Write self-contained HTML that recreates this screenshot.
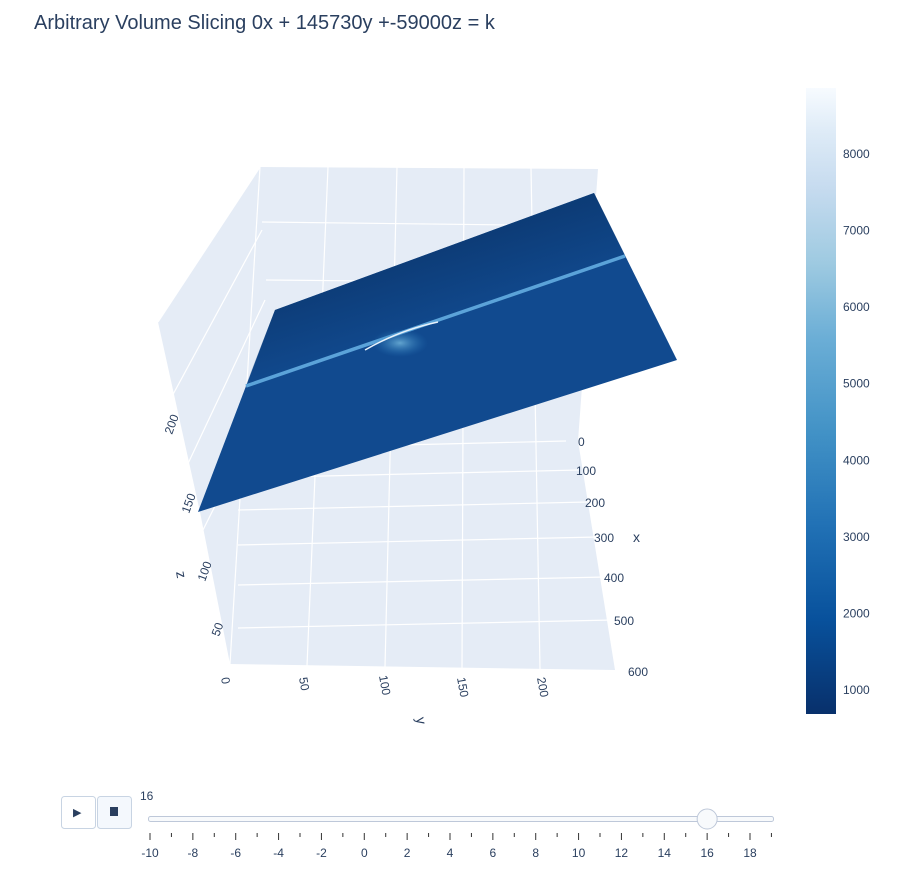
<!DOCTYPE html>
<html><head><meta charset="utf-8"><style>
body{margin:0;background:#fff;font-family:"Liberation Sans","DejaVu Sans",sans-serif;}
svg text{font-family:"Liberation Sans","DejaVu Sans",sans-serif;fill:#2a3f5f;}
</style></head><body>
<svg width="903" height="886" viewBox="0 0 903 886" xmlns="http://www.w3.org/2000/svg">
<defs>
<linearGradient id="cb" x1="0" y1="1" x2="0" y2="0">
<stop offset="0" stop-color="#08306b"/><stop offset="0.15" stop-color="#08519c"/><stop offset="0.3" stop-color="#2171b5"/><stop offset="0.45" stop-color="#4292c6"/><stop offset="0.6" stop-color="#6baed6"/><stop offset="0.72" stop-color="#9ecae1"/><stop offset="0.84" stop-color="#c6dbef"/><stop offset="0.93" stop-color="#deebf7"/><stop offset="1" stop-color="#f7fbff"/>
</linearGradient>
<linearGradient id="shade" gradientUnits="userSpaceOnUse" x1="430" y1="250" x2="455" y2="330">
<stop offset="0" stop-color="#0c3a74" stop-opacity="0.9"/><stop offset="1" stop-color="#0c3a74" stop-opacity="0"/>
</linearGradient>
<radialGradient id="blob" cx="0.5" cy="0.5" r="0.5"><stop offset="0" stop-color="#6baed6" stop-opacity="0.9"/><stop offset="1" stop-color="#2171b5" stop-opacity="0"/></radialGradient>
</defs>
<text x="34" y="29" font-size="20">Arbitrary Volume Slicing 0x + 145730y +-59000z = k</text>

<g>
<polygon points="260,167 598,169 578,441 615,670 230,664" fill="#e5ecf6"/>
<polygon points="158,322 260,167 230,664 200,512" fill="#e5ecf6"/>
<g id="grid" stroke="#fff" stroke-width="1.2" fill="none"></g>
<polygon points="275,310 594,193 677,360 198,512" fill="#114a8f"/>
<polygon points="275,310 594,193 625,255 245,387" fill="url(#shade)"/>
<line x1="246" y1="386" x2="625" y2="256" stroke="#5ba3d9" stroke-width="3.5"/>
<ellipse cx="400" cy="343" rx="28" ry="14" fill="url(#blob)"/>
<path d="M365,350 Q400,330 438,322" stroke="#e8f2fb" stroke-width="1.5" fill="none"/>
<g id="axlabels" font-size="12"></g>
<text x="633" y="542" font-size="14">x</text>
<text x="0" y="0" font-size="14" transform="translate(176,572) rotate(80)">z</text>
<text x="0" y="0" font-size="14" transform="translate(416,718) rotate(80)">y</text>
</g>

<g>
<rect x="806" y="88" width="30" height="626" fill="url(#cb)"/>
<g id="cbt" font-size="12"></g>
</g>

<g>
<rect x="61.5" y="796.5" width="34" height="32" rx="3" fill="#fff" stroke="#c8d4e3"/>
<text x="73" y="816" font-size="11">▶</text>
<rect x="97.5" y="796.5" width="34" height="32" rx="3" fill="#f4f8fd" stroke="#c8d4e3"/>
<rect x="110" y="807" width="8" height="9" fill="#2a3f5f"/>
<text x="140" y="800" font-size="12">16</text>
<rect x="148.5" y="816.5" width="625" height="5" rx="2" fill="#f8fafc" stroke="#bec8d9"/>
<g id="sticks" font-size="12"></g>
<circle id="handle" cx="707" cy="819" r="10" fill="#f8fafc" stroke="#bec8d9"/>
</g>
</svg>
<script>
const cbTicks=[1000,2000,3000,4000,5000,6000,7000,8000];
const sliderSteps=[-10,-9,-8,-7,-6,-5,-4,-3,-2,-1,0,1,2,3,4,5,6,7,8,9,10,11,12,13,14,15,16,17,18,19];
const sliderValue=16;
const xTicks=["0","100","200","300","400","500","600"];
const yTicks=["0","50","100","150","200"];
const zTicks=["50","100","150","200"];
const NS="http://www.w3.org/2000/svg";
function mk(t,a,p){const e=document.createElementNS(NS,t);for(const k in a)e.setAttribute(k,a[k]);p.appendChild(e);return e;}
const cbY=v=>690-(v-1000)*(690-154)/7000;
const cbt=document.getElementById('cbt');
cbTicks.forEach(v=>{const t=mk('text',{x:843,y:cbY(v)+4},cbt);t.textContent=v;

});
const sX=v=>150+(v+10)*(750-150)/28;
const st=document.getElementById('sticks');
sliderSteps.forEach(v=>{const major=v%2===0;const l=mk('line',{x1:sX(v),x2:sX(v),y1:833,y2:major?840:837,stroke:'#333','stroke-width':1},st);


if(major){const t=mk('text',{x:sX(v),y:857,'text-anchor':'middle'},st);t.textContent=v;

}});
document.getElementById('handle').setAttribute('cx',sX(sliderValue));
const g=document.getElementById('grid');
const yb=[[230,664],[307,666],[385,667],[462,668],[540,669]],yt=[[260,167],[328,167],[397,167],[464,168],[531,168]];
yb.forEach((b,i)=>mk('line',{x1:b[0],y1:b[1],x2:yt[i][0],y2:yt[i][1]},g));
[[262,222,596,226],[266,280,593,283]].forEach(a=>mk('line',{x1:a[0],y1:a[1],x2:a[2],y2:a[3]},g));
[[441,566],[470,580],[502,588],[537,598],[577,606],[620,613]].forEach(a=>mk('line',{x1:238,y1:a[0]+8,x2:a[1],y2:a[0]},g));
[[158,322,260,167],[170,400,262,230],[185,470,265,300],[198,540,258,420]].forEach(a=>mk('line',{x1:a[0],y1:a[1],x2:a[2],y2:a[3]},g));
const al=document.getElementById('axlabels');
const xp=[[578,446],[576,475],[585,507],[594,542],[604,582],[614,625],[628,676]];
xTicks.forEach((s,i)=>{const t=mk('text',{x:xp[i][0],y:xp[i][1]},al);t.textContent=s;

});
const yp=[[221,678],[299,678],[379,676],[457,678],[537,678]];
yTicks.forEach((s,i)=>{const t=mk('text',{x:0,y:0,transform:`translate(${yp[i][0]},${yp[i][1]}) rotate(80)`},al);t.textContent=s;

});
const zp=[[219,637],[205,582],[189,514],[172,435]];
zTicks.forEach((s,i)=>{const t=mk('text',{x:0,y:0,transform:`translate(${zp[i][0]},${zp[i][1]}) rotate(-70)`},al);t.textContent=s;

});
</script>
</body></html>
